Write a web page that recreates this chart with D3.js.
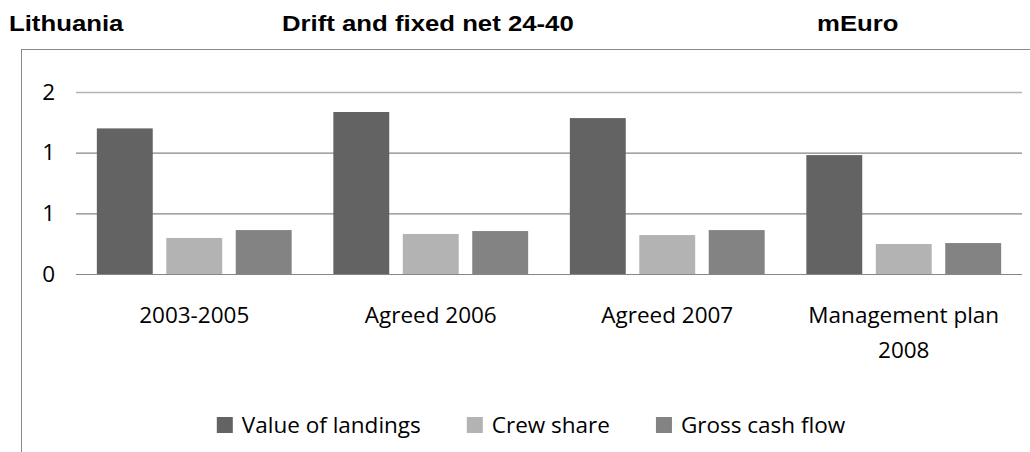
<!DOCTYPE html>
<html>
<head>
<meta charset="utf-8">
<script src="https://cdn.jsdelivr.net/npm/d3@7"></script>
<style>
  html, body { margin: 0; padding: 0; background: #fff; }
  svg { display: block; }
</style>
</head>
<body>
<svg id="chart" width="1030" height="452"></svg>
<script>
// Lithuania – drift and fixed net 24-40, economic indicators in mEuro
const categories = ["2003-2005", "Agreed 2006", "Agreed 2007", "Management plan\n2008"];
const seriesNames = ["Value of landings", "Crew share", "Gross cash flow"];
const valueOfLandings = [1.20, 1.335, 1.285, 0.98];
const crewShare = [0.297, 0.33, 0.321, 0.247];
const grossCashFlow = [0.362, 0.354, 0.362, 0.255];
const yTickValues = [0, 0.5, 1, 1.5];
const yTickLabels = ["0", "1", "1", "2"];
const seriesColors = ["#636363", "#b3b3b3", "#838383"];

const seriesValues = [valueOfLandings, crewShare, grossCashFlow];
const rows = categories.map((c, i) => ({
  category: c,
  values: seriesNames.map((s, k) => ({ series: s, value: seriesValues[k][i] }))
}));

const svg = d3.select("#chart");
const bodyFont = "'Open Sans', sans-serif";
const titleFont = "'Liberation Sans', Arial, sans-serif";

// outer chart frame
svg.append("rect")
  .attr("x", 21.5).attr("y", 49.5)
  .attr("width", 1040).attr("height", 420)
  .attr("fill", "none").attr("stroke", "#8a8a8a").attr("stroke-width", 1);

// header titles
const titles = [
  { text: "Lithuania", x: 9 },
  { text: "Drift and fixed net 24-40", x: 282 },
  { text: "mEuro", x: 817 }
];
svg.selectAll("text.title").data(titles).join("text")
  .attr("class", "title")
  .attr("transform", d => `translate(${d.x},31) scale(1.17,1)`)
  .attr("font-family", titleFont)
  .attr("font-weight", "bold")
  .attr("font-size", 22)
  .attr("fill", "#000")
  .text(d => d.text);

const plotLeft = 76, plotRight = 1022;
const x0 = d3.scaleBand().domain(categories).range([plotLeft, plotRight]).padding(0);
const x1 = d3.scaleBand().domain(seriesNames).range([0, x0.bandwidth()])
  .paddingInner(0.195).paddingOuter(0.3);
const y = d3.scaleLinear().domain([0, 1.5]).range([274, 92]);
const color = d3.scaleOrdinal().domain(seriesNames).range(seriesColors);

// value axis with gridlines
const yAxis = d3.axisLeft(y)
  .tickValues(yTickValues)
  .tickFormat((d, i) => yTickLabels[i])
  .tickSize(-(plotRight - plotLeft))
  .tickPadding(21);

const gy = svg.append("g")
  .attr("transform", `translate(${plotLeft},0)`)
  .call(yAxis);
gy.select(".domain").remove();
gy.selectAll(".tick line")
  .attr("stroke", d => d === 1.5 ? "#b4b4b4" : "#868686")
  .attr("stroke-width", d => d === 1.5 ? 1.6 : 1.2);
gy.selectAll(".tick text")
  .attr("font-family", bodyFont)
  .attr("font-size", 22.5)
  .attr("fill", "#000");

// bars
svg.append("g").selectAll("g").data(rows).join("g")
  .attr("transform", d => `translate(${x0(d.category)},0)`)
  .selectAll("rect").data(d => d.values).join("rect")
  .attr("x", d => x1(d.series))
  .attr("width", x1.bandwidth())
  .attr("y", d => y(d.value))
  .attr("height", d => y(0) - y(d.value))
  .attr("fill", d => color(d.series));

// category axis labels
const catLabels = svg.append("g").selectAll("text").data(categories).join("text")
  .attr("x", d => x0(d) + x0.bandwidth() / 2)
  .attr("y", 323)
  .attr("text-anchor", "middle")
  .attr("font-family", bodyFont)
  .attr("font-size", 22.5)
  .attr("fill", "#000");
catLabels.selectAll("tspan").data(d => d.split("\n")).join("tspan")
  .attr("x", function () { return d3.select(this.parentNode).attr("x"); })
  .attr("dy", (d, i) => i === 0 ? 0 : 35)
  .text(d => d);

// legend
const legend = svg.append("g");
const items = legend.selectAll("g").data(seriesNames).join("g");
items.append("rect")
  .attr("width", 16).attr("height", 16)
  .attr("y", 417)
  .attr("fill", d => color(d));
items.append("text")
  .attr("x", 25).attr("y", 433)
  .attr("font-family", bodyFont)
  .attr("font-size", 22.5)
  .attr("fill", "#000")
  .text(d => d);
const widths = [];
items.each(function () {
  widths.push(25 + d3.select(this).select("text").node().getComputedTextLength());
});
const gap = 46;
const total = d3.sum(widths) + gap * (widths.length - 1);
let cursor = 531 - total / 2;
items.attr("transform", (d, i) => {
  const t = `translate(${cursor},0)`;
  cursor += widths[i] + gap;
  return t;
});
</script>
</body>
</html>
